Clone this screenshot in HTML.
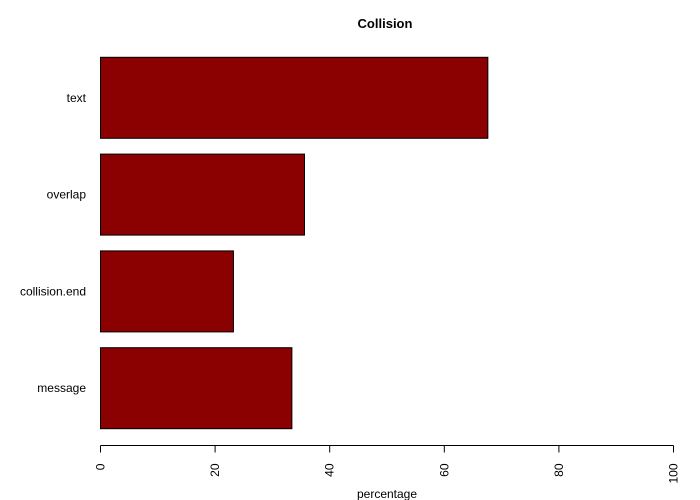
<!DOCTYPE html>
<html><head><meta charset="utf-8"><style>
html,body{margin:0;padding:0;background:#fff;}
svg{display:block;font-family:"Liberation Sans",Arial,sans-serif;}
</style></head><body>
<svg id="chart" width="700" height="500" viewBox="0 0 700 500" xmlns="http://www.w3.org/2000/svg">
<text x="385" y="28" text-anchor="middle" font-size="13" font-weight="bold">Collision</text>
<text x="387" y="498" text-anchor="middle" font-size="12">percentage</text>
<g id="bars"></g><g id="axis"></g>
</svg>
<script>
const categories = ["text", "overlap", "collision.end", "message"];
const values = [67.6, 35.6, 23.2, 33.4];
const ticks = [0, 20, 40, 60, 80, 100];
const ns = "http://www.w3.org/2000/svg";
const x0 = 100.5, x1 = 673.5;
function xs(v){ return x0 + (x1 - x0) * v / 100; }
const top0 = 57.3, pitch = 96.8, bh = 81;
function ys(i){ return top0 + i * pitch; }
const bars = document.getElementById('bars');
categories.forEach((c, i) => {
  const r = document.createElementNS(ns, 'rect');
  
  
  r.setAttribute('x', xs(0)); r.setAttribute('y', ys(i));
  r.setAttribute('width', xs(values[i]) - xs(0)); r.setAttribute('height', bh);
  r.setAttribute('fill', '#8b0000'); r.setAttribute('stroke', '#000'); r.setAttribute('stroke-width', '1');
  bars.appendChild(r);
  const t = document.createElementNS(ns, 'text');
  
  
  t.setAttribute('x', 86); t.setAttribute('y', ys(i) + bh / 2 + 4);
  t.setAttribute('text-anchor', 'end'); t.setAttribute('font-size', '12');
  t.textContent = c;
  bars.appendChild(t);
});
const axis = document.getElementById('axis');
const ay = 445.5;
const line = document.createElementNS(ns, 'line');


line.setAttribute('x1', xs(ticks[0])); line.setAttribute('x2', xs(ticks[ticks.length - 1]));
line.setAttribute('y1', ay); line.setAttribute('y2', ay); line.setAttribute('stroke', '#000');
axis.appendChild(line);
ticks.forEach(v => {
  const l = document.createElementNS(ns, 'line');
  
  
  l.setAttribute('x1', xs(v)); l.setAttribute('x2', xs(v));
  l.setAttribute('y1', ay); l.setAttribute('y2', ay + 7); l.setAttribute('stroke', '#000');
  axis.appendChild(l);
  const t = document.createElementNS(ns, 'text');
  
  
  t.setAttribute('transform', 'translate(' + (xs(v) + 4) + ',' + (ay + 18) + ') rotate(-90)');
  t.setAttribute('text-anchor', 'end'); t.setAttribute('font-size', '12');
  t.textContent = v;
  axis.appendChild(t);
});
</script>
</body></html>
